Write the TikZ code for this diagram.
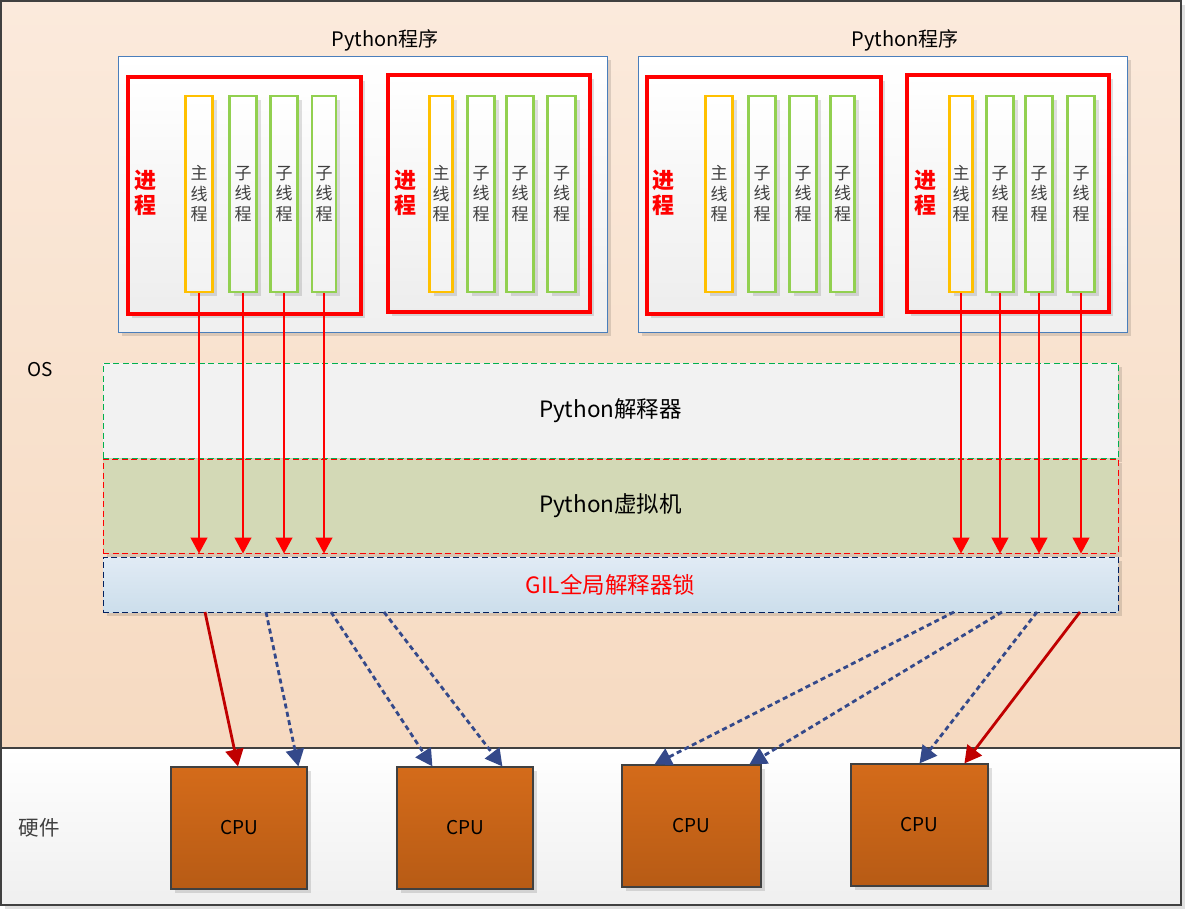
\documentclass[tikz,border=0pt]{standalone}
\usepackage{fontspec}
\setmainfont{Noto Sans CJK SC}
\usetikzlibrary{arrows.meta,shadows,calc}
\definecolor{osTop}{HTML}{FBEADC}
\definecolor{osBot}{HTML}{F6DAC1}
\definecolor{hwBot}{HTML}{EFEFEF}
\definecolor{frameC}{HTML}{404040}
\definecolor{progBlue}{HTML}{4A7EBB}
\definecolor{mainC}{HTML}{FFC000}
\definecolor{subC}{HTML}{92D050}
\definecolor{interpFill}{HTML}{F2F2F2}
\definecolor{interpLine}{HTML}{00B050}
\definecolor{vmFill}{HTML}{D3D9B6}
\definecolor{gilTop}{HTML}{E1EBF5}
\definecolor{gilBot}{HTML}{CCDEEB}
\definecolor{gilLine}{HTML}{002060}
\definecolor{cpuTop}{HTML}{D46B1A}
\definecolor{cpuBot}{HTML}{B75B15}
\definecolor{darkRed}{HTML}{C00000}
\definecolor{navyArrow}{HTML}{34498A}
\definecolor{txtGray}{HTML}{404040}
\begin{document}
\begin{tikzpicture}[x=1pt,y=-1pt,
  shad/.style={drop shadow={shadow xshift=4pt,shadow yshift=-4pt,fill=black,opacity=0.12}},
  prog/.style={draw=progBlue,line width=1pt,top color=white,bottom color=black!6,inner sep=0pt,minimum width=489pt,minimum height=276pt,shad},
  proc/.style={draw=red,line width=4pt,top color=white,bottom color=black!7,inner sep=0pt,minimum height=237pt,shad},
  thr/.style={line width=2.7pt,top color=white,bottom color=black!5,inner sep=0pt,minimum height=196pt,minimum width=27pt,
     align=center,text=txtGray,font=\fontsize{17}{20.5}\selectfont,shad},
  mthr/.style={thr,draw=mainC},
  sthr/.style={thr,draw=subC},
  proclabel/.style={text=red,font=\fontsize{22}{25.5}\selectfont\bfseries,align=center,inner sep=0pt},
  layer/.style={minimum width=1015pt,inner sep=0pt,line width=1pt,dash pattern=on 6pt off 3.5pt,font=\fontsize{22.5}{25}\selectfont,shad},
  tarrow/.style={draw=red,line width=1.2pt,-{Triangle[width=17pt,length=16pt]}},
  harrow/.style={draw=darkRed,line width=2.8pt,-{Triangle[width=18pt,length=17pt]}},
  darrow/.style={draw=navyArrow,line width=2.8pt,dash pattern=on 5pt off 3.5pt,-{Triangle[width=18pt,length=17pt]}},
  cpu/.style={draw=frameC,line width=1.2pt,top color=cpuTop,bottom color=cpuBot,inner sep=0pt,minimum height=122pt,font=\fontsize{19}{22}\selectfont,shad}
]
\useasboundingbox (0,0) rectangle (1186,911);
% outer frame with shadow
\fill[black!12] (5,5) rectangle (1185,909);
\shade[top color=osTop,bottom color=osBot] (1,1) rectangle (1181,748);
\shade[top color=white,bottom color=hwBot] (1,748) rectangle (1181,905);
\draw[frameC,line width=1.3pt] (1,1) rectangle (1181,905);
\draw[frameC,line width=1.3pt] (1,748) -- (1181,748);
\node[font=\fontsize{19}{22}\selectfont] (os) at (40,370) {OS};
\node[font=\fontsize{20.5}{23}\selectfont,text=txtGray] (hw) at (39,828) {硬件};

% programs
\node[prog] (prog1) at (362.5,194) {};
\node[prog] (prog2) at (882.5,194) {};
\node[font=\fontsize{20}{22}\selectfont] (title1) at (385,40) {Python程序};
\node[font=\fontsize{20}{22}\selectfont] (title2) at (905,40) {Python程序};

% processes
\node[proc,minimum width=233pt] (pr1) at (244.5,195.5) {};
\node[proc,minimum width=202pt] (pr2) at (489,193.5) {};
\node[proc,minimum width=234pt] (pr3) at (764,195.5) {};
\node[proc,minimum width=202pt] (pr4) at (1008,193.5) {};
\node[proclabel] (pl1) at (145,193) {进\\程};
\node[proclabel] (pl2) at (405,193) {进\\程};
\node[proclabel] (pl3) at (663,193) {进\\程};
\node[proclabel] (pl4) at (925,193) {进\\程};

% threads
\node[mthr] (t11) at (199,194) {主\\线\\程};
\node[sthr] (t12) at (243,194) {子\\线\\程};
\node[sthr] (t13) at (284,194) {子\\线\\程};
\node[sthr,minimum width=24pt] (t14) at (324,194) {子\\线\\程};
\node[mthr,minimum width=23pt] (t21) at (441,194) {主\\线\\程};
\node[sthr] (t22) at (481,194) {子\\线\\程};
\node[sthr] (t23) at (520,194) {子\\线\\程};
\node[sthr,minimum width=28pt] (t24) at (561.5,194) {子\\线\\程};
\node[mthr] (t31) at (719,194) {主\\线\\程};
\node[sthr] (t32) at (762,194) {子\\线\\程};
\node[sthr] (t33) at (803,194) {子\\线\\程};
\node[sthr,minimum width=24pt] (t34) at (842.5,194) {子\\线\\程};
\node[mthr,minimum width=23pt] (t41) at (961,194) {主\\线\\程};
\node[sthr] (t42) at (1000,194) {子\\线\\程};
\node[sthr] (t43) at (1039,194) {子\\线\\程};
\node[sthr] (t44) at (1081,194) {子\\线\\程};

% layers
\node[layer,fill=interpFill,draw=interpLine,minimum height=95pt] (interp) at (610.5,410.5) {Python解释器};
\node[layer,fill=vmFill,draw=red,minimum height=94pt] (vm) at (610.5,506) {Python虚拟机};
\node[layer,top color=gilTop,bottom color=gilBot,draw=gilLine,minimum height=55pt,text=red] (gil) at (610.5,584.5) {GIL全局解释器锁};

% thread arrows
\foreach \t in {t11,t12,t13,t14,t41,t42,t43,t44}{
  \draw[tarrow] (\t.south) -- (\t.south |- vm.south);
}

% CPUs
\node[cpu,minimum width=136pt] (cpu1) at (239,828) {CPU};
\node[cpu,minimum width=136pt] (cpu2) at (465,828) {CPU};
\node[cpu,minimum width=139pt] (cpu3) at (691.5,826) {CPU};
\node[cpu,minimum width=137pt] (cpu4) at (919.5,825) {CPU};

% GIL to CPU arrows
\coordinate (g1) at (205,612);
\coordinate (g2) at (266,612);
\coordinate (g3) at (331,612);
\coordinate (g4) at (384,612);
\coordinate (g5) at (954,612);
\coordinate (g6) at (1002,612);
\coordinate (g7) at (1037,612);
\coordinate (g8) at (1080,612);
\draw[harrow] (g1) -- ([xshift=-1pt]cpu1.north);
\draw[darrow] (g2) -- ([xshift=128pt]cpu1.north west);
\draw[darrow] (g3) -- ([xshift=36pt]cpu2.north west);
\draw[darrow] (g4) -- ([xshift=106pt]cpu2.north west);
\draw[darrow] (g5) -- ([xshift=33pt]cpu3.north west);
\draw[darrow] (g6) -- ([xshift=128pt]cpu3.north west);
\draw[darrow] (g7) -- (cpu4.north);
\draw[harrow] (g8) -- ([xshift=114pt]cpu4.north west);
\end{tikzpicture}
\end{document}
